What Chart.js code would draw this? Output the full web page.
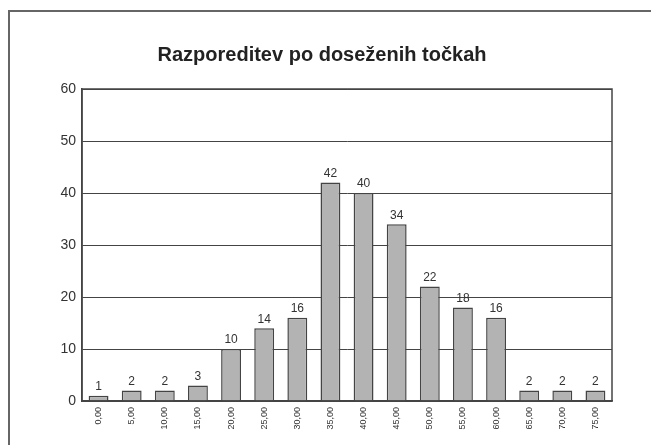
<!DOCTYPE html>
<html>
<head>
<meta charset="utf-8">
<script src="https://cdn.jsdelivr.net/npm/chart.js@4.4.0/dist/chart.umd.min.js"></script>
<style>
  body { margin: 0; background: #fff; }
  #wrap { position: relative; width: 651px; height: 445px; overflow: hidden; }
  #frame { position: absolute; left: 8px; top: 10px; width: 700px; height: 500px;
           border-top: 2px solid #666; border-left: 2px solid #666; }
  canvas { position: absolute; left: 0; top: 0; }
</style>
</head>
<body>
<div id="wrap">
  <div id="frame"></div>
  <canvas id="chart" width="651" height="445"></canvas>
</div>
<script>
// Razporeditev po doseženih točkah
const title = "Razporeditev po doseženih točkah";
const categories = ["0,00", "5,00", "10,00", "15,00", "20,00", "25,00", "30,00", "35,00",
  "40,00", "45,00", "50,00", "55,00", "60,00", "65,00", "70,00", "75,00"];
const counts = [1, 2, 2, 3, 10, 14, 16, 42, 40, 34, 22, 18, 16, 2, 2, 2];
const yTicks = [0, 10, 20, 30, 40, 50, 60];

const FONT = "'Liberation Sans', Arial, sans-serif";

// title, box around plot, value labels above bars
const extras = {
  id: "extras",
  afterDraw(chart) {
    const { ctx, chartArea } = chart;
    ctx.save();
    ctx.fillStyle = "#222";
    ctx.font = "bold 20px " + FONT;
    ctx.textAlign = "center";
    ctx.textBaseline = "alphabetic";
    ctx.fillText(title, 322, 61);

    ctx.strokeStyle = "#444";
    ctx.lineWidth = 1.5;
    ctx.strokeRect(chartArea.left, chartArea.top, chartArea.right - chartArea.left, chartArea.bottom - chartArea.top);

    ctx.fillStyle = "#333";
    ctx.font = "12px " + FONT;
    ctx.textBaseline = "bottom";
    const meta = chart.getDatasetMeta(0);
    meta.data.forEach((bar, i) => {
      ctx.fillText(String(counts[i]), bar.x, bar.y - 3);
    });
    ctx.restore();
  }
};

new Chart(document.getElementById("chart"), {
  type: "bar",
  data: {
    labels: categories,
    datasets: [{
      data: counts,
      backgroundColor: "#b3b3b3",
      borderColor: "#444",
      borderWidth: 1.5,
      barPercentage: 0.6,
      categoryPercentage: 1.0
    }]
  },
  options: {
    responsive: false,
    animation: false,
    layout: { padding: { top: 89, right: 39, bottom: 0, left: 0 } },
    plugins: {
      legend: { display: false },
      tooltip: { enabled: false },
      title: { display: false }
    },
    scales: {
      x: {
        grid: { display: false, drawTicks: false },
        border: { color: "#444", width: 1.5 },
        ticks: {
          color: "#333",
          font: { family: FONT, size: 9 },
          minRotation: 90,
          maxRotation: 90,
          padding: 6,
          autoSkip: false
        },
        afterFit(scale) { scale.height = 44; }
      },
      y: {
        min: 0,
        max: 60,
        afterBuildTicks(scale) { scale.ticks = yTicks.map(v => ({ value: v })); },
        grid: { color: "#444", lineWidth: 1, drawTicks: false },
        border: { color: "#444", width: 1.5 },
        ticks: {
          color: "#333",
          font: { family: FONT, size: 14 },
          padding: 6
        },
        afterFit(scale) { scale.width = 82; }
      }
    }
  },
  plugins: [extras]
});
</script>
</body>
</html>
